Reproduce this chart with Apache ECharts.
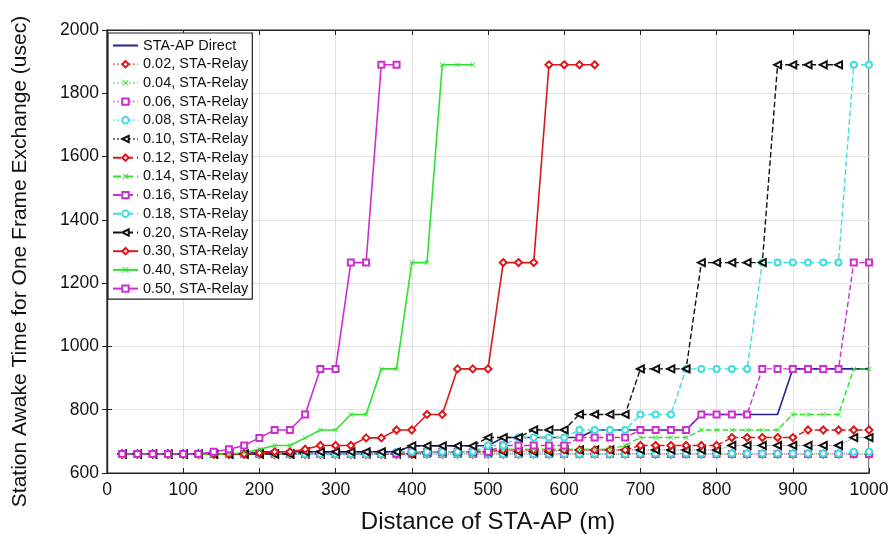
<!DOCTYPE html>
<html>
<head>
<meta charset="utf-8">
<script src="https://cdn.jsdelivr.net/npm/echarts@6/dist/echarts.min.js"></script>
<style>
html,body{margin:0;padding:0;background:#fff;}
#container{width:888px;height:534px;}
</style>
</head>
<body>
<div id="container"></div>
<script>
// distance of STA-AP (m)
var distList = [20,40,60,80,100,120,140,160,180,200,220,240,260,280,300,320,340,360,380,400,
	420,440,460,480,500,520,540,560,580,600,620,640,660,680,700,720,740,760,780,800,
	820,840,860,880,900,920,940,960,980,1000];

var yTicks = [600,800,1000,1200,1400,1600,1800,2000];

// awake time (usec)
var directList = [660,660,660,660,660,660,660,660,660,667,667,667,667,667,667,667,667,667,667,686,
	686,686,686,686,686,712,712,712,712,712,712,736,736,736,736,736,736,736,785,785,
	785,785,785,785,929,929,929,929,929,929];
var r002List = [660,660,660,660,660,660,660,660,660,660,660,660,660,660,660,660,660,660,660,660,
	660,660,660,660,660,660,660,660,660,660,660,660,660,660,660,660,660,660,660,660,
	660,660,660,660,660,660,660,660,660,660];
var r004List = [660,660,660,660,660,660,660,660,660,660,660,660,660,660,660,660,660,660,660,660,
	660,660,660,660,660,660,660,660,660,660,660,660,660,660,660,660,660,660,660,660,
	660,660,660,660,660,660,660,660,660,660];
var r006List = [660,660,660,660,660,660,660,660,660,660,660,660,660,660,660,660,660,660,660,660,
	660,660,660,660,660,660,660,660,660,660,660,660,660,660,660,660,660,660,660,660,
	660,660,660,660,660,660,660,660,660,660];
var r008List = [660,660,660,660,660,660,660,660,660,660,660,660,660,660,660,660,660,660,660,660,
	660,660,660,660,660,660,660,660,660,660,660,660,660,660,662,662,662,662,662,662,
	662,662,662,662,662,662,662,662,667,667];
var r010List = [660,660,660,660,660,660,660,660,660,660,660,660,660,660,660,660,660,660,660,660,
	667,667,667,667,667,667,667,667,667,673,673,673,673,673,673,673,673,673,673,673,
	687,687,687,687,687,687,687,687,712,712];
var r012List = [660,660,660,660,660,660,660,660,660,660,660,660,660,660,660,660,660,660,660,660,
	667,667,667,667,667,673,673,673,673,673,673,673,673,673,687,687,687,687,687,687,
	712,712,712,712,712,736,736,736,736,736];
var r014List = [660,660,660,660,660,660,660,660,660,660,660,660,660,660,660,660,660,660,660,667,
	667,667,667,667,675,675,675,675,675,675,675,675,675,687,712,712,712,712,736,736,
	736,736,736,736,785,785,785,785,929,929];
var r016List = [660,660,660,660,660,660,660,660,660,660,660,660,660,660,660,660,660,660,660,667,
	667,667,667,667,667,687,687,687,687,687,712,712,712,712,736,736,736,736,785,785,
	785,785,929,929,929,929,929,929,1265,1265];
var r018List = [660,660,660,660,660,660,660,660,660,660,660,660,660,660,660,660,660,660,667,667,
	667,667,667,667,687,687,712,712,712,712,736,736,736,736,785,785,785,929,929,929,
	929,929,1265,1265,1265,1265,1265,1265,1890,1890];
var r020List = [660,660,660,660,660,660,660,660,660,660,660,660,667,667,667,667,667,667,667,686,
	686,686,686,686,712,712,712,736,736,736,785,785,785,785,929,929,929,929,1265,1265,
	1265,1265,1265,1890,1890,1890,1890,1890];
var r030List = [660,660,660,660,660,660,660,660,660,663,667,667,675,687,687,687,711,711,736,736,
	785,785,929,929,929,1265,1265,1265,1890,1890,1890,1890];
var r040List = [660,660,660,660,660,660,660,660,664,675,687,687,711,736,736,785,785,929,929,1265,
	1265,1890,1890,1890];
var r050List = [660,660,660,660,660,660,667,675,687,711,736,736,785,929,929,1265,1265,1890,1890];

var xMark = 'path://M0,1L1,0L5,4L9,0L10,1L6,5L10,9L9,10L5,6L1,10L0,9L4,5Z';

function makeSeries(name, vals, color, lineType, symbol, size, rotate, width, opacity){
	var data = [];
	for (var i = 0; i < vals.length; i++) {
		if (vals[i] != null) data.push([distList[i], vals[i]]);
	}
	return {
		name: name,
		type: 'line',
		data: data,
		symbol: symbol,
		symbolSize: size,
		symbolRotate: rotate,
		showSymbol: symbol != 'none',
		showAllSymbol: true,
		itemStyle: {color: color, borderWidth: 1.2},
		lineStyle: {color: color, type: lineType, width: width, opacity: opacity},
		emphasis: {disabled: true}
	};
}

var red = '#d9191c', green = '#2fe02f', mag = '#cc2fd0', cyan = '#3fdede', blk = '#111111';

var seriesList = [
	makeSeries('STA-AP Direct', directList, '#24248f', 'solid', 'none', 0, 0, 1.6, 1),
	makeSeries('0.02, STA-Relay', r002List, red, 'dotted', 'emptyDiamond', 7, 0, 1, 0.5),
	makeSeries('0.04, STA-Relay', r004List, green, 'dotted', xMark, 5, 0, 1, 0.5),
	makeSeries('0.06, STA-Relay', r006List, mag, 'dotted', 'emptyRect', 6, 0, 1, 0.5),
	makeSeries('0.08, STA-Relay', r008List, cyan, 'dotted', 'emptyCircle', 6, 0, 1, 0.6),
	makeSeries('0.10, STA-Relay', r010List, blk, 'dotted', 'emptyTriangle', 7, 90, 1, 0.6),
	makeSeries('0.12, STA-Relay', r012List, red, 'dashed', 'emptyDiamond', 7, 0, 1.4, 1),
	makeSeries('0.14, STA-Relay', r014List, green, 'dashed', xMark, 5, 0, 1.4, 1),
	makeSeries('0.16, STA-Relay', r016List, mag, 'dashed', 'emptyRect', 6, 0, 1.4, 1),
	makeSeries('0.18, STA-Relay', r018List, cyan, 'dashed', 'emptyCircle', 6, 0, 1.4, 1),
	makeSeries('0.20, STA-Relay', r020List, blk, 'dashed', 'emptyTriangle', 7, 90, 1.4, 1),
	makeSeries('0.30, STA-Relay', r030List, red, 'solid', 'emptyDiamond', 7, 0, 1.6, 1),
	makeSeries('0.40, STA-Relay', r040List, green, 'solid', xMark, 5, 0, 1.6, 1),
	makeSeries('0.50, STA-Relay', r050List, mag, 'solid', 'emptyRect', 6, 0, 1.6, 1)
];

var legendNames = [];
for (var k = 0; k < seriesList.length; k++) {
	if (k == 0) legendNames.push({name: seriesList[k].name, itemStyle: {opacity: 0}});
	else legendNames.push(seriesList[k].name);
}

var dom = document.getElementById("container");
var myChart = echarts.init(dom);

var plainNum = function (v) { return String(v); };
var tickFont = {fontSize: 17.5, color: '#111', fontFamily: 'Liberation Sans', formatter: plainNum};

option = {
	animation: false,
	textStyle: {fontFamily: 'Liberation Sans'},
	grid: {left: 107, right: 19, top: 30, bottom: 61, show: true, borderColor: '#222', borderWidth: 1.2,
		containLabel: false, outerBoundsMode: 'none'},
	legend: {
		data: legendNames,
		orient: 'vertical',
		left: 108,
		top: 33,
		padding: [5, 4, 3, 4],
		itemWidth: 25,
		itemHeight: 8,
		itemGap: 3.7,
		backgroundColor: '#fff',
		borderColor: '#222',
		borderWidth: 1.2,
		textStyle: {fontSize: 14.5, color: '#111'},
		selectedMode: false
	},
	xAxis: [{
		type: 'value',
		min: 0, max: 1000, interval: 100,
		name: 'Distance of STA-AP (m)',
		nameLocation: 'middle',
		nameGap: 37,
		nameTextStyle: {fontSize: 24, color: '#111'},
		axisLine: {lineStyle: {color: '#222', width: 1.2}},
		axisTick: {inside: true, length: 5, lineStyle: {color: '#222'}},
		axisLabel: tickFont,
		splitLine: {lineStyle: {color: '#e2e2e2'}}
	}, {
		type: 'value', position: 'top',
		min: 0, max: 1000, interval: 100,
		axisLine: {lineStyle: {color: '#222', width: 1.2}},
		axisTick: {inside: true, length: 5, lineStyle: {color: '#222'}},
		axisLabel: {show: false},
		splitLine: {show: false}
	}],
	yAxis: [{
		type: 'value',
		min: yTicks[0], max: yTicks[yTicks.length - 1], interval: 200,
		name: 'Station Awake Time for One Frame Exchange (usec)',
		nameLocation: 'middle',
		nameGap: 76,
		nameTextStyle: {fontSize: 21, color: '#111', padding: [0, 20, 0, 0]},
		axisLine: {lineStyle: {color: '#222', width: 1.2}},
		axisTick: {inside: true, length: 5, lineStyle: {color: '#222'}},
		axisLabel: tickFont,
		splitLine: {lineStyle: {color: '#e2e2e2'}}
	}, {
		type: 'value', position: 'right',
		min: yTicks[0], max: yTicks[yTicks.length - 1], interval: 200,
		axisLine: {lineStyle: {color: '#222', width: 1.2}},
		axisTick: {inside: true, length: 5, lineStyle: {color: '#222'}},
		axisLabel: {show: false},
		splitLine: {show: false}
	}],
	series: seriesList
};

myChart.setOption(option);
</script>
</body>
</html>
